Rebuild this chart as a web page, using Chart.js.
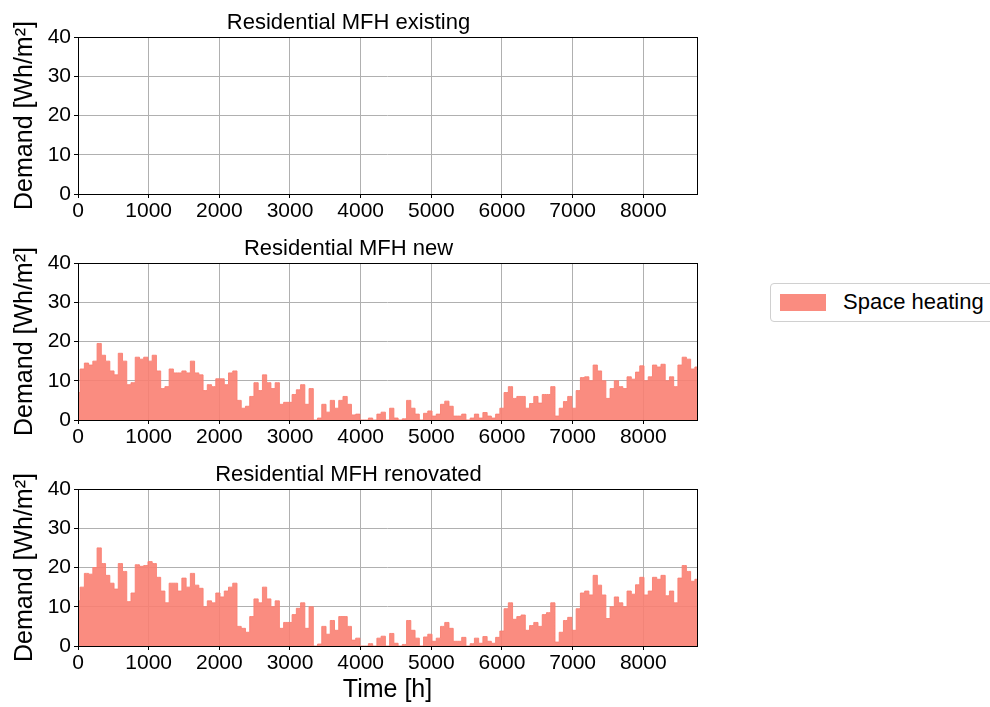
<!DOCTYPE html>
<html lang="en">
<head>
<meta charset="utf-8">
<title>Residential MFH space heating</title>
<script src="https://cdn.jsdelivr.net/npm/chart.js@4.4.1/dist/chart.umd.min.js"></script>
<style>
    body { margin: 0; width: 990px; height: 707px; overflow: hidden; background: #fff; position: relative;
           font-family: "Liberation Sans", Arial, sans-serif; }
    canvas { position: absolute; left: 0; }
    #legend { position: absolute; left: 770px; top: 283px; width: 240px; height: 39px;
              border: 1px solid #d0d0d0; border-radius: 4px; box-sizing: border-box; }
    #legend .patch { position: absolute; left: 9px; top: 10px; width: 46px; height: 17px;
                     background: rgba(250, 128, 114, 0.9); }
    #legend .label { position: absolute; left: 72px; top: 5px; font-size: 22px; color: #000; }
</style>
</head>
<body>
<canvas id="c0" width="720" height="226" style="top:0px"></canvas>
<canvas id="c1" width="720" height="226" style="top:226px"></canvas>
<canvas id="c2" width="720" height="255" style="top:452px"></canvas>
<div id="legend"><span class="patch"></span><span class="label">Space heating</span></div>

<script>
    // hours between two samples, year = 8760 h
    const STEP_H = 60;
    const X_MAX = 8760;
    const xTicks = [0, 1000, 2000, 3000, 4000, 5000, 6000, 7000, 8000];
    const yTicks = [0, 10, 20, 30, 40];

    const titles = ['Residential MFH existing', 'Residential MFH new', 'Residential MFH renovated'];
    const seriesLabel = 'Space heating';

    // Wh/m2
    const existingValues = [];
    const newValues = [
        7, 13, 14.5, 14, 15, 19.5, 16.5, 15, 12.5, 11.5, 17, 15, 9, 9.5, 16, 15.5, 16, 15, 16.5, 12.5,
        8, 8.5, 13, 12, 12, 12.5, 12, 15, 12, 11.5, 7.5, 9, 8.5, 10.5, 10.5, 9, 12, 12.5, 5, 3,
        3.5, 6, 9.5, 7.5, 11.5, 9.5, 8, 9.5, 4, 4.5, 4.5,
        6.5, 7.7, 9, 4, 8, 0, 0.5, 4, 2, 5, 3, 5, 6, 4, 1.3, 1.5, 0, 0, 0.5, 0,
        1.5, 2, 0, 3, 0.5, 0, 0.3, 5, 3, 1.5, 0, 1.7, 2.3, 1, 1.5, 4, 4.8, 3.5, 1, 1,
        1.5, 0, 0.5, 1.5, 0.5, 1.9, 1, 0.5, 1.5,
        3, 7, 8.5, 5.5, 6, 6, 3, 4.2, 6, 4.3, 6.5, 6.5, 8.5, 1, 3, 4.7, 6, 3, 7.5, 10.8,
        11, 10, 14, 12.5, 10, 5.5, 8, 10, 8.5, 8, 11, 10.4, 12.2, 13.8, 10, 11, 14, 13.5, 14.2, 10,
        11, 8.5, 14, 16, 15.5, 13, 13.5
    ];
    const renovatedValues = [
        11.5, 15, 18.5, 18.3, 20, 25, 21, 18, 16, 14.5, 21, 19, 11.3, 13.5, 20.7, 20.3, 20.5, 21.5, 21, 17.5,
        14, 11, 16, 16, 14, 17.3, 15, 18.5, 15.5, 14.7, 10, 11.5, 11, 13.5, 12.5, 14, 15, 16, 5, 4.5,
        3.5, 7.5, 12, 11, 15, 12, 10, 11.5, 4.5, 6, 6,
        8, 9.6, 11, 4.5, 10, 0, 0.5, 5, 3, 6.5, 4, 7.5, 7.5, 5, 1.5, 2, 0, 0, 0.6, 0,
        2, 2.5, 0, 3.2, 0.7, 0, 0.4, 6.5, 4, 2, 0, 2.3, 3, 1.2, 2, 5, 6, 4.5, 1.2, 1.2,
        2.2, 0, 0.6, 2, 0.7, 2.4, 1.2, 0.7, 2.2,
        3.8, 9.5, 11, 6.8, 7.5, 7.9, 4, 5.2, 6, 5, 8, 8.5, 11, 1, 3.5, 6.5, 7.3, 4, 9.5, 13.5,
        14, 13, 18, 15.5, 13, 7, 10, 12.5, 11, 10, 14, 13.2, 15.6, 17.5, 13, 14, 17.5, 17, 18, 12.8,
        14, 11, 17.3, 20.5, 19, 16.5, 17
    ];

    const FONT = '"Liberation Sans", Arial, sans-serif';
    const FILL = 'rgba(250, 128, 114, 0.9)';

    // black frame round the plot area, like matplotlib spines
    const frameBox = {
        id: 'frameBox',
        afterDraw (chart) {
            const { ctx, chartArea: a } = chart;
            ctx.save();
            ctx.strokeStyle = '#000';
            ctx.lineWidth = 1;
            ctx.strokeRect(Math.round(a.left) + 0.5, Math.round(a.top) + 0.5,
                           Math.round(a.right - a.left), Math.round(a.bottom - a.top));
            ctx.restore();
        }
    };

    function makeChart (id, title, values, canvasHeight, showXTitle) {
        const points = values.map((v, i) => ({ x: i * STEP_H, y: v }));
        return new Chart(document.getElementById(id), {
            type: 'line',
            data: {
                datasets: [{
                    label: seriesLabel,
                    data: points,
                    fill: 'origin',
                    backgroundColor: FILL,
                    borderColor: FILL,
                    borderWidth: 1,
                    pointRadius: 0,
                    stepped: 'middle'
                }]
            },
            options: {
                responsive: false,
                animation: false,
                devicePixelRatio: 1,
                layout: { padding: { left: 0, right: 23, top: 0, bottom: 0 } },
                plugins: {
                    legend: { display: false },
                    tooltip: { enabled: false },
                    title: {
                        display: true,
                        text: title,
                        color: '#000',
                        font: { family: FONT, size: 22, weight: 'normal' },
                        padding: { top: 10, bottom: 0.6 }
                    }
                },
                scales: {
                    x: {
                        type: 'linear',
                        min: 0,
                        max: X_MAX,
                        z: 1,
                        afterBuildTicks: s => { s.ticks = xTicks.map(v => ({ value: v })); },
                        afterFit: s => { s.height = canvasHeight - 194; },
                        ticks: {
                            color: '#000',
                            font: { family: FONT, size: 21 },
                            padding: 1,
                            maxRotation: 0,
                            autoSkip: false,
                            callback: v => String(v)
                        },
                        grid: { color: '#b0b0b0', tickColor: '#000', tickLength: 4 },
                        border: { display: false },
                        title: {
                            display: showXTitle,
                            text: 'Time [h]',
                            color: '#000',
                            font: { family: FONT, size: 25 },
                            padding: { top: 0, bottom: 2 }
                        }
                    },
                    y: {
                        min: 0,
                        max: 40,
                        z: 1,
                        afterBuildTicks: s => { s.ticks = yTicks.map(v => ({ value: v })); },
                        afterFit: s => { s.width = 78; },
                        ticks: {
                            color: '#000',
                            font: { family: FONT, size: 21 },
                            padding: 3
                        },
                        grid: { color: '#b0b0b0', tickColor: '#000', tickLength: 4 },
                        border: { display: false },
                        title: {
                            display: true,
                            text: 'Demand [Wh/m²]',
                            color: '#000',
                            font: { family: FONT, size: 25 },
                            padding: { top: 10, bottom: 0 }
                        }
                    }
                }
            },
            plugins: [frameBox]
        });
    }

    makeChart('c0', titles[0], existingValues, 226, false);
    makeChart('c1', titles[1], newValues, 226, false);
    makeChart('c2', titles[2], renovatedValues, 255, true);
</script>
</body>
</html>
